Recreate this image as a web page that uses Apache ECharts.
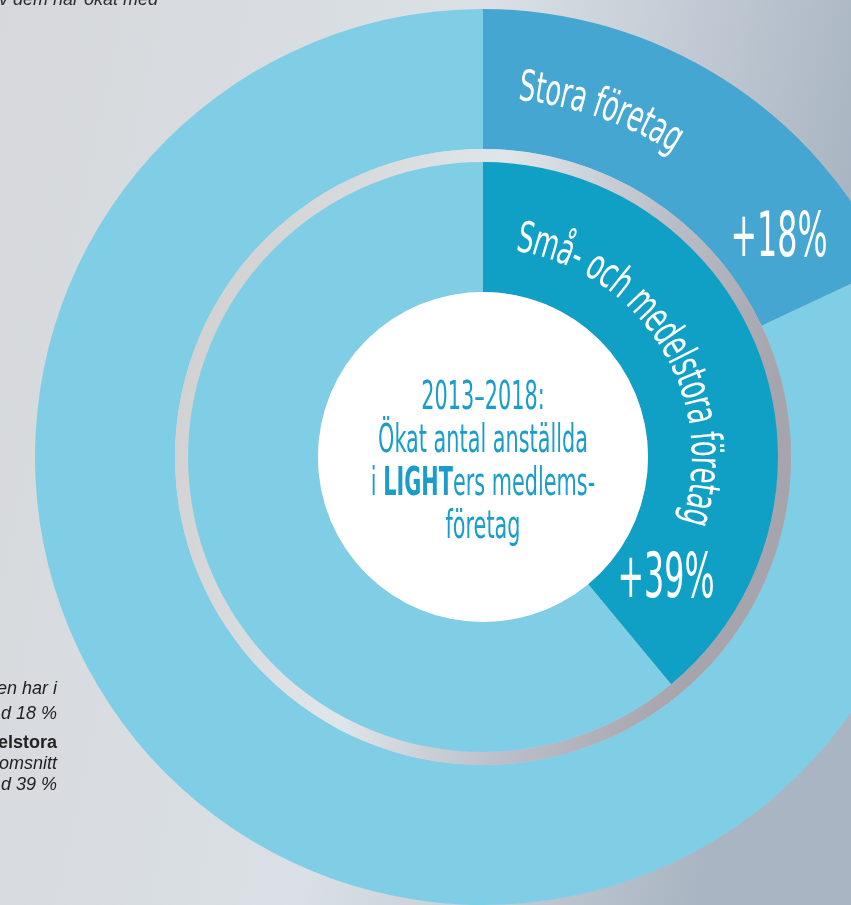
<!DOCTYPE html>
<html>
<head>
<meta charset="utf-8">
<script src="https://cdn.jsdelivr.net/npm/echarts@6/dist/echarts.min.js"></script>
<style>
html,body{margin:0;padding:0;background:#d8dce0;}
#chart{width:851px;height:905px;}
</style>
</head>
<body>
<div id="chart"></div>
<script>
// ---- data ----
const outerCategories = ['Stora företag', 'Övriga'];
const outerValues = [18, 82];
const innerCategories = ['Små- och medelstora företag', 'Övriga'];
const innerValues = [39, 61];
const percentLabels = ['+18%', '+39%'];
const titleLines = ['2013–2018:', 'Ökat antal anställda', 'i {b|LIGHT}ers medlems-', 'företag'];
const sideTextTop = ['v dem har ökat med'];
const sideTextBottom = ['en har i', 'd 18 %', 'elstora', 'omsnitt', 'd 39 %'];

// ---- layout / style ----
const CX = 483, CY = 457;
const FONT = '"Liberation Sans Narrow", "DejaVu Sans Condensed", "Liberation Sans", sans-serif';
const LIGHT = '#80cee6';
const OUTER_DARK = '#45a6d1';
const INNER_DARK = '#10a0c6';
const TITLE_COLOR = '#1a9dc8';

const mctx = document.createElement('canvas').getContext('2d');
function measure(txt, size, weight) {
  mctx.font = (weight || 'normal') + ' ' + size + 'px ' + FONT;
  return mctx.measureText(txt).width;
}

function arcText(text, r, a0deg, a1deg, size, color) {
  const chars = Array.from(text);
  const widths = chars.map(c => measure(c, size));
  const W = widths.reduce((a, b) => a + b, 0);
  const a0 = a0deg * Math.PI / 180, a1 = a1deg * Math.PI / 180;
  const L = r * (a1 - a0);
  const s = L / W;
  const els = [];
  let cum = 0;
  chars.forEach((c, i) => {
    const mid = cum + widths[i] / 2;
    cum += widths[i];
    if (c === ' ') return;
    const th = a0 + mid * s / r;
    els.push({
      type: 'text',
      x: CX + r * Math.sin(th),
      y: CY - r * Math.cos(th),
      rotation: -th,
      scaleX: s,
      z: 100,
      silent: true,
      style: {
        text: c, fill: color, fontSize: size, fontFamily: FONT,
        align: 'center', verticalAlign: 'middle'
      }
    });
  });
  return els;
}

const graphics = [];
// background
graphics.push({
  type: 'rect', z: -10, silent: true,
  shape: { x: 0, y: 0, width: 851, height: 905 },
  style: {
    fill: {
      type: 'linear', x: 0, y: 0, x2: 1, y2: 0.2,
      colorStops: [
        { offset: 0, color: '#d6d8db' },
        { offset: 0.55, color: '#dae0e5' },
        { offset: 0.8, color: '#c0c9d3' },
        { offset: 1, color: '#a9b5c2' }
      ]
    }
  }
});

// curved labels
graphics.push(...arcText(outerCategories[0], 370, 5.6, 32, 43, '#ffffff'));
graphics.push(...arcText(innerCategories[0], 220, 9, 108, 43, '#ffffff'));

// percent labels
const pctPos = [[779, 240], [666, 581]];
percentLabels.forEach((t, i) => {
  const w = measure(t, 62);
  graphics.push({
    type: 'text', x: pctPos[i][0], y: pctPos[i][1], scaleX: 97 / w, z: 100, silent: true,
    style: { text: t, fill: '#ffffff', fontSize: 62, fontFamily: FONT, align: 'center', verticalAlign: 'middle' }
  });
});

// center title
const titleScale = 210 / measure('Ökat antal anställda', 39);
graphics.push({
  type: 'text', x: CX, y: 463, scaleX: titleScale, z: 100, silent: true,
  style: {
    text: titleLines.join('\n'),
    fill: TITLE_COLOR, fontSize: 39, fontFamily: FONT, lineHeight: 43,
    align: 'center', verticalAlign: 'middle',
    rich: {
      b: { fontWeight: 'bold', fontSize: 39, fontFamily: FONT, lineHeight: 43, fill: TITLE_COLOR }
    }
  }
});

// side text fragments (page text)
graphics.push({
  type: 'text', x: 158, y: 0, z: 100, silent: true,
  style: { text: sideTextTop[0], fill: '#2a2a2a', fontSize: 18, fontStyle: 'italic',
    fontFamily: '"Liberation Sans", Arial, sans-serif', align: 'right', verticalAlign: 'middle' }
});
const sbBase = [695, 720, 749, 770, 791];
sideTextBottom.forEach((t, i) => {
  graphics.push({
    type: 'text', x: 57, y: sbBase[i] - 6, z: 100, silent: true,
    style: { text: t, fill: '#222222', fontSize: 18,
      fontStyle: i === 2 ? 'normal' : 'italic', fontWeight: i === 2 ? 'bold' : 'normal',
      fontFamily: '"Liberation Sans", Arial, sans-serif', align: 'right', verticalAlign: 'middle' }
  });
});

const commonPie = {
  type: 'pie', center: [CX, CY], startAngle: 90, clockwise: true,
  silent: true, label: { show: false }, labelLine: { show: false },
  emphasis: { disabled: true }, animation: false, avoidLabelOverlap: false
};

const chart = echarts.init(document.getElementById('chart'), null, { renderer: 'canvas' });
chart.setOption({
  animation: false,
  tooltip: { show: false },
  graphic: { elements: graphics },
  series: [
    Object.assign({}, commonPie, {
      name: 'Stora företag', radius: [308, 448], z: 2,
      data: outerCategories.map((n, i) => ({
        name: n, value: outerValues[i],
        itemStyle: { color: i === 0 ? OUTER_DARK : LIGHT, borderWidth: 0 }
      }))
    }),
    Object.assign({}, commonPie, {
      name: 'ring', radius: [295, 308], z: 2,
      data: [{
        name: 'ring', value: 1,
        itemStyle: {
          borderWidth: 0,
          color: {
            type: 'linear', x: 0, y: 0, x2: 1, y2: 0.3,
            colorStops: [
              { offset: 0, color: '#cfcbcb' },
              { offset: 0.3, color: '#d8dbde' },
              { offset: 0.5, color: '#dfe6ea' },
              { offset: 0.75, color: '#bcc0ca' },
              { offset: 1, color: '#a6a4ad' }
            ]
          }
        }
      }]
    }),
    Object.assign({}, commonPie, {
      name: 'Små- och medelstora företag', radius: [165, 295], z: 2,
      data: innerCategories.map((n, i) => ({
        name: n, value: innerValues[i],
        itemStyle: { color: i === 0 ? INNER_DARK : LIGHT, borderWidth: 0 }
      }))
    }),
    Object.assign({}, commonPie, {
      name: 'center', radius: [0, 165], z: 2,
      data: [{ name: 'center', value: 1, itemStyle: { color: '#ffffff', borderWidth: 0 } }]
    })
  ]
});
</script>
</body>
</html>
